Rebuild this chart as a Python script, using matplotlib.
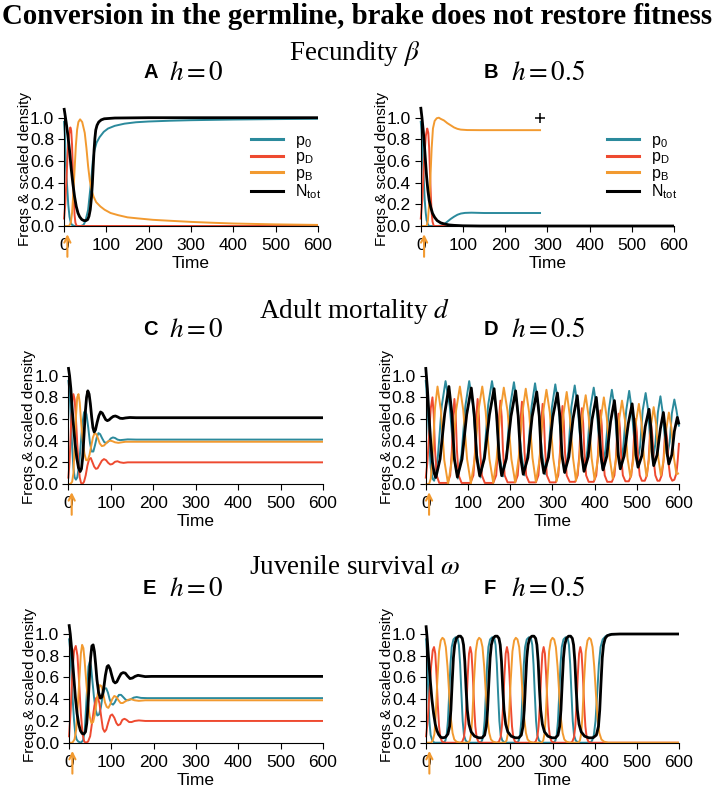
import matplotlib
matplotlib.use("Agg")
import matplotlib.pyplot as plt
from matplotlib.lines import Line2D

# ─── Farben / Stil ────────────────────────────────────────────────────────────
TEAL   = "#2b8a9c"
RED    = "#ee4a30"
ORANGE = "#f29a30"
BLACK  = "#000000"

plt.rcParams["font.family"] = ["Liberation Sans", "DejaVu Sans"]
plt.rcParams["mathtext.fontset"] = "stix"

# ─── Daten: (Zeit, Wert) ─────────────────────────────────────────────────────
RELEASE_T = 8          # orange Pfeil = Einführung der Bremse
B_PLUS = (283, 1.0)    # Marker in Panel B

# Panel A – Fecundity, h = 0
A_P0 = [(0, 0.97), (2, 0.85), (4, 0.62), (6, 0.45), (8, 0.33), (10, 0.2), (13, 0.086),
        (16, 0.03), (19, 0.01), (25, 0.0), (40, 0.0), (46, 0.01), (50, 0.04), (54, 0.1),
        (57, 0.15), (61, 0.3), (65, 0.45), (68, 0.6), (72, 0.7), (77, 0.77), (84, 0.82),
        (94, 0.87), (104, 0.9), (120, 0.925), (143, 0.945), (170, 0.958), (200, 0.965),
        (250, 0.972), (300, 0.977), (400, 0.983), (500, 0.987), (600, 0.99)]
A_PD = [(0, 0.06), (3, 0.2), (6, 0.45), (9, 0.7), (12, 0.85), (15, 0.91), (17, 0.88),
        (19, 0.75), (21, 0.5), (23, 0.27), (25, 0.1), (27, 0.03), (30, 0.0), (600, 0.0)]
A_PB = [(0, 0.0), (12, 0.0), (16, 0.03), (19, 0.12), (22, 0.3), (25, 0.52), (28, 0.74),
        (31, 0.89), (34, 0.96), (38, 0.985), (43, 0.96), (49, 0.86), (53, 0.72), (57, 0.55),
        (61, 0.42), (65, 0.33), (70, 0.27), (76, 0.22), (86, 0.18), (96, 0.15), (110, 0.12),
        (128, 0.1), (150, 0.08), (175, 0.07), (210, 0.057), (242, 0.05), (300, 0.038),
        (350, 0.03), (400, 0.023), (500, 0.015), (600, 0.01)]
A_N = [(0, 1.09), (2, 1.04), (5, 0.96), (9, 0.84), (13, 0.7), (17, 0.53), (21, 0.39),
       (25, 0.27), (29, 0.18), (33, 0.12), (37, 0.085), (42, 0.06), (47, 0.05), (52, 0.05),
       (56, 0.06), (59, 0.09), (62, 0.15), (65, 0.27), (67, 0.39), (69, 0.55), (71, 0.7),
       (73, 0.81), (75, 0.886), (78, 0.93), (82, 0.96), (88, 0.98), (95, 0.99), (120, 0.997),
       (200, 1.0), (600, 1.0)]

# Panel B – Fecundity, h = 0.5
B_P0 = [(0, 0.97), (2, 0.88), (4, 0.7), (7, 0.45), (9.5, 0.24), (12, 0.12), (14, 0.055),
        (17, 0.015), (20, 0.0), (40, 0.0), (47, 0.003), (55, 0.015), (63, 0.04), (71, 0.065),
        (79, 0.086), (87, 0.104), (95, 0.115), (105, 0.121), (120, 0.123), (150, 0.12),
        (200, 0.12), (285, 0.12)]
B_PD = [(0, 0.06), (4, 0.25), (8, 0.6), (12, 0.83), (15.5, 0.9), (18, 0.86), (20, 0.72),
        (22, 0.5), (24, 0.28), (26, 0.12), (28, 0.04), (31, 0.0), (285, 0.0)]
B_PB = [(0, 0.0), (14, 0.0), (17, 0.05), (20, 0.2), (23, 0.45), (26, 0.72), (29, 0.9),
        (33, 0.97), (38, 0.995), (43, 1.0), (47, 0.99), (55, 0.975), (63, 0.95), (71, 0.93),
        (79, 0.91), (87, 0.897), (95, 0.89), (110, 0.886), (140, 0.885), (285, 0.885)]
B_N = [(0, 1.1), (3, 1.0), (6, 0.88), (8, 0.79), (11, 0.62), (14, 0.455), (17, 0.33),
       (20, 0.24), (24, 0.17), (28, 0.117), (33, 0.08), (39, 0.05), (47, 0.03), (55, 0.02),
       (67, 0.01), (79, 0.006), (100, 0.002), (140, 0.0), (600, 0.0)]

# Panel C – Adult mortality, h = 0
C_P0 = [(0, 0.96), (3, 0.85), (6, 0.6), (9, 0.35), (12, 0.15), (15, 0.06), (18, 0.04),
        (21, 0.06), (25, 0.16), (29, 0.35), (33, 0.55), (37, 0.66), (40, 0.68), (43, 0.64),
        (47, 0.52), (51, 0.38), (55, 0.3), (59, 0.3), (63, 0.36), (67, 0.43), (71, 0.47),
        (75, 0.46), (80, 0.42), (85, 0.385), (90, 0.38), (95, 0.395), (100, 0.42), (105, 0.43),
        (110, 0.425), (116, 0.41), (122, 0.405), (130, 0.408), (140, 0.412), (160, 0.41),
        (600, 0.41)]
C_PD = [(0, 0.05), (3, 0.2), (6, 0.5), (9, 0.75), (12, 0.83), (15, 0.78), (18, 0.6),
        (21, 0.38), (24, 0.18), (27, 0.06), (30, 0.01), (33, 0.0), (37, 0.02), (41, 0.08),
        (45, 0.17), (49, 0.23), (53, 0.24), (57, 0.2), (61, 0.16), (65, 0.14), (69, 0.145),
        (74, 0.18), (79, 0.215), (84, 0.23), (89, 0.22), (94, 0.195), (99, 0.18), (104, 0.185),
        (110, 0.205), (116, 0.21), (122, 0.2), (130, 0.195), (140, 0.2), (600, 0.2)]
C_PB = [(0, 0.0), (5, 0.0), (9, 0.02), (12, 0.1), (15, 0.35), (18, 0.62), (21, 0.8),
        (24, 0.83), (27, 0.75), (30, 0.58), (34, 0.4), (38, 0.28), (42, 0.22), (46, 0.22),
        (50, 0.27), (54, 0.35), (58, 0.43), (62, 0.47), (66, 0.46), (70, 0.42), (74, 0.375),
        (79, 0.35), (84, 0.355), (89, 0.375), (94, 0.395), (99, 0.4), (104, 0.395), (110, 0.385),
        (118, 0.38), (126, 0.385), (135, 0.39), (150, 0.39), (600, 0.39)]
C_N = [(0, 1.08), (3, 1.0), (6, 0.88), (9, 0.7), (12, 0.55), (16, 0.37), (20, 0.24),
       (24, 0.15), (28, 0.115), (31, 0.14), (34, 0.25), (37, 0.45), (40, 0.66), (43, 0.8),
       (46, 0.86), (49, 0.83), (52, 0.74), (55, 0.62), (58, 0.52), (61, 0.48), (64, 0.5),
       (68, 0.57), (72, 0.63), (76, 0.665), (80, 0.655), (84, 0.625), (88, 0.595), (92, 0.585),
       (96, 0.592), (101, 0.61), (106, 0.624), (111, 0.628), (116, 0.62), (122, 0.607),
       (128, 0.605), (135, 0.61), (145, 0.614), (160, 0.612), (600, 0.612)]

# Panel D – Adult mortality, h = 0.5 (Oszillationen)
D_P0 = [(0, 0.96), (4, 0.75), (8, 0.4), (12, 0.15), (16, 0.05), (20, 0.03),
        (29, 0.26), (38, 0.72), (47, 0.95), (57, 0.72), (66, 0.28), (76, 0.05),
        (85, 0.28), (94, 0.72), (103, 0.95), (112, 0.73), (121, 0.28), (130, 0.06),
        (139, 0.28), (148, 0.73), (157, 0.95), (166, 0.73), (174, 0.29), (183, 0.07),
        (192, 0.29), (200, 0.72), (209, 0.94), (217, 0.72), (226, 0.3), (234, 0.08),
        (242, 0.29), (251, 0.72), (259, 0.93), (267, 0.72), (275, 0.3), (283, 0.09),
        (291, 0.3), (299, 0.71), (307, 0.92), (315, 0.71), (322, 0.3), (330, 0.1),
        (338, 0.3), (345, 0.71), (353, 0.91), (360, 0.71), (368, 0.32), (375, 0.12),
        (383, 0.31), (390, 0.7), (398, 0.89), (405, 0.7), (412, 0.33), (419, 0.14),
        (426, 0.32), (434, 0.69), (441, 0.87), (448, 0.69), (454, 0.34), (461, 0.16),
        (468, 0.34), (475, 0.68), (482, 0.86), (488, 0.69), (495, 0.36), (501, 0.19),
        (508, 0.35), (514, 0.68), (521, 0.84), (527, 0.68), (532, 0.38), (538, 0.22),
        (544, 0.37), (550, 0.66), (556, 0.81), (561, 0.67), (567, 0.4), (572, 0.26),
        (578, 0.39), (583, 0.65), (589, 0.78), (594, 0.68), (600, 0.53)]
D_PD = [(0, 0.05), (4, 0.2), (8, 0.45), (12, 0.7), (16, 0.8), (19, 0.64), (22, 0.32), (26, 0.08),
        (32, 0.01), (52, 0.01), (58, 0.08), (62, 0.31), (65, 0.63), (68, 0.785), (71, 0.63),
        (74, 0.31), (78, 0.08), (85, 0.01), (106, 0.01), (113, 0.08), (117, 0.31), (120, 0.63),
        (123, 0.785), (126, 0.63), (129, 0.31), (133, 0.08), (140, 0.01), (160, 0.01),
        (167, 0.08), (171, 0.31), (174, 0.62), (177, 0.77), (180, 0.62), (183, 0.31),
        (187, 0.08), (194, 0.015), (212, 0.015), (218, 0.08), (222, 0.3), (225, 0.61),
        (228, 0.76), (231, 0.61), (234, 0.3), (238, 0.08), (245, 0.015), (261, 0.015),
        (267, 0.08), (271, 0.3), (274, 0.59), (277, 0.74), (280, 0.59), (283, 0.3),
        (287, 0.08), (294, 0.015), (308, 0.015), (314, 0.08), (318, 0.29), (321, 0.58),
        (324, 0.72), (327, 0.58), (330, 0.29), (334, 0.08), (341, 0.02), (354, 0.02),
        (360, 0.08), (364, 0.28), (367, 0.56), (370, 0.7), (373, 0.56), (376, 0.28),
        (380, 0.08), (386, 0.02), (398, 0.02), (404, 0.08), (408, 0.27), (411, 0.54),
        (414, 0.68), (417, 0.54), (420, 0.27), (424, 0.08), (430, 0.02), (441, 0.02),
        (447, 0.08), (451, 0.26), (454, 0.52), (457, 0.65), (460, 0.52), (463, 0.26),
        (467, 0.08), (473, 0.025), (481, 0.025), (487, 0.08), (491, 0.24), (494, 0.48),
        (497, 0.6), (500, 0.48), (503, 0.24), (507, 0.08), (512, 0.03), (519, 0.03),
        (524, 0.08), (528, 0.22), (531, 0.44), (534, 0.55), (537, 0.44), (540, 0.22),
        (544, 0.08), (549, 0.03), (554, 0.03), (559, 0.08), (563, 0.2), (566, 0.41),
        (569, 0.51), (572, 0.41), (575, 0.2), (579, 0.07), (584, 0.03), (589, 0.04),
        (594, 0.1), (597, 0.22), (600, 0.38)]
D_PB = [(0, 0.0), (8, 0.0), (12, 0.05), (17, 0.3), (22, 0.7), (28, 0.9),
        (36, 0.68), (44, 0.22), (53, 0.0), (62, 0.22), (72, 0.68), (81, 0.9),
        (89, 0.68), (98, 0.23), (107, 0.005), (116, 0.23), (125, 0.68), (134, 0.9),
        (142, 0.67), (151, 0.23), (160, 0.01), (168, 0.23), (177, 0.67), (185, 0.89),
        (194, 0.67), (203, 0.23), (212, 0.015), (220, 0.23), (229, 0.66), (237, 0.88),
        (245, 0.66), (253, 0.24), (261, 0.02), (270, 0.23), (278, 0.66), (286, 0.87),
        (294, 0.66), (302, 0.24), (310, 0.025), (318, 0.23), (326, 0.64), (334, 0.85),
        (341, 0.64), (349, 0.24), (356, 0.03), (364, 0.23), (371, 0.63), (379, 0.82),
        (386, 0.62), (393, 0.24), (400, 0.04), (408, 0.23), (415, 0.61), (422, 0.8),
        (429, 0.61), (436, 0.24), (443, 0.05), (451, 0.23), (458, 0.59), (465, 0.77),
        (472, 0.59), (478, 0.24), (485, 0.06), (492, 0.23), (498, 0.57), (505, 0.74),
        (511, 0.57), (517, 0.24), (523, 0.07), (529, 0.23), (534, 0.55), (540, 0.71),
        (546, 0.55), (551, 0.24), (557, 0.08), (564, 0.23), (570, 0.51), (576, 0.66),
        (582, 0.52), (588, 0.24), (594, 0.09), (600, 0.1)]
D_N = [(0, 1.08), (4, 0.88), (8, 0.62), (12, 0.38), (16, 0.2), (20, 0.1), (24, 0.06),
       (34, 0.23), (45, 0.65), (55, 0.9), (62, 0.65), (68, 0.23), (75, 0.065),
       (86, 0.23), (97, 0.64), (108, 0.886), (115, 0.64), (121, 0.24), (128, 0.075),
       (139, 0.235), (151, 0.64), (162, 0.88), (168, 0.64), (174, 0.24), (180, 0.077),
       (191, 0.234), (202, 0.625), (213, 0.86), (219, 0.63), (225, 0.244), (231, 0.09),
       (242, 0.242), (252, 0.62), (263, 0.85), (269, 0.625), (274, 0.25), (280, 0.1),
       (291, 0.248), (301, 0.618), (312, 0.84), (318, 0.62), (323, 0.256), (329, 0.108),
       (339, 0.25), (349, 0.603), (359, 0.815), (364, 0.605), (370, 0.257), (375, 0.117),
       (385, 0.254), (394, 0.595), (404, 0.8), (409, 0.6), (415, 0.264), (420, 0.13),
       (429, 0.258), (438, 0.578), (447, 0.77), (452, 0.58), (456, 0.266), (461, 0.14),
       (470, 0.26), (480, 0.56), (489, 0.74), (494, 0.56), (498, 0.27), (503, 0.155),
       (512, 0.262), (520, 0.53), (529, 0.69), (533, 0.535), (537, 0.274), (540, 0.17),
       (548, 0.268), (556, 0.513), (563, 0.66), (567, 0.517), (572, 0.28), (576, 0.185),
       (583, 0.27), (589, 0.486), (596, 0.615), (600, 0.55)]

# Panel E – Juvenile survival, h = 0
E_P0 = [(0, 0.96), (3, 0.85), (6, 0.6), (9, 0.38), (12, 0.2), (15, 0.08), (18, 0.03),
        (22, 0.01), (28, 0.0), (33, 0.02), (37, 0.1), (40, 0.3), (43, 0.52), (46, 0.7),
        (49, 0.745), (52, 0.7), (55, 0.58), (59, 0.42), (63, 0.3), (67, 0.25), (71, 0.26),
        (75, 0.32), (79, 0.42), (84, 0.5), (88, 0.5), (92, 0.46), (96, 0.4), (100, 0.36),
        (104, 0.35), (108, 0.37), (113, 0.41), (118, 0.44), (123, 0.44), (128, 0.42),
        (134, 0.395), (140, 0.39), (146, 0.4), (153, 0.415), (160, 0.42), (170, 0.412),
        (185, 0.41), (600, 0.41)]
E_PD = [(0, 0.05), (4, 0.3), (8, 0.65), (12, 0.85), (16, 0.89), (20, 0.8), (24, 0.55),
        (28, 0.27), (32, 0.08), (36, 0.01), (40, 0.0), (45, 0.01), (50, 0.06), (55, 0.2),
        (60, 0.34), (64, 0.41), (68, 0.42), (72, 0.36), (76, 0.24), (80, 0.13), (84, 0.1),
        (88, 0.12), (93, 0.19), (98, 0.25), (102, 0.26), (107, 0.23), (112, 0.18), (116, 0.16),
        (121, 0.17), (126, 0.21), (131, 0.22), (136, 0.21), (142, 0.19), (148, 0.19),
        (155, 0.2), (165, 0.205), (180, 0.2), (600, 0.2)]
E_PB = [(0, 0.0), (8, 0.0), (13, 0.03), (17, 0.12), (21, 0.35), (25, 0.62), (28, 0.82),
        (31, 0.9), (34, 0.87), (37, 0.75), (41, 0.55), (45, 0.36), (49, 0.24), (53, 0.18),
        (57, 0.19), (61, 0.26), (65, 0.37), (69, 0.48), (73, 0.53), (77, 0.52), (81, 0.45),
        (85, 0.37), (89, 0.33), (93, 0.32), (97, 0.35), (102, 0.4), (107, 0.43), (112, 0.42),
        (117, 0.39), (122, 0.365), (127, 0.365), (133, 0.38), (140, 0.395), (147, 0.4),
        (155, 0.39), (165, 0.385), (180, 0.39), (600, 0.39)]
E_N = [(0, 1.09), (3, 1.0), (7, 0.83), (11, 0.62), (15, 0.42), (19, 0.27), (23, 0.17),
       (27, 0.11), (31, 0.085), (35, 0.08), (39, 0.1), (42, 0.18), (45, 0.35), (48, 0.58),
       (51, 0.78), (54, 0.89), (57, 0.9), (60, 0.84), (63, 0.72), (66, 0.58), (70, 0.46),
       (74, 0.41), (78, 0.42), (82, 0.5), (86, 0.62), (90, 0.7), (93, 0.71), (97, 0.68),
       (101, 0.62), (105, 0.565), (109, 0.55), (113, 0.56), (118, 0.6), (123, 0.635),
       (128, 0.645), (133, 0.64), (138, 0.615), (144, 0.59), (150, 0.595), (156, 0.61),
       (163, 0.62), (170, 0.615), (180, 0.608), (195, 0.61), (600, 0.61)]

# Panel F – Juvenile survival, h = 0.5
F_P0 = [(0, 0.96), (2, 0.85), (4, 0.62), (6, 0.38), (8, 0.2), (11, 0.07), (15, 0.02), (20, 0.0),
        (42, 0.0), (46, 0.02), (49, 0.07), (52, 0.2), (55, 0.45), (58, 0.72), (61, 0.88),
        (65, 0.95), (70, 0.97), (75, 0.96), (78, 0.9), (81, 0.72), (84, 0.45), (87, 0.2),
        (90, 0.07), (94, 0.02), (100, 0.0), (129, 0.0), (133, 0.02), (136, 0.07), (139, 0.2),
        (142, 0.45), (145, 0.72), (148, 0.88), (152, 0.95), (157, 0.97), (162, 0.96),
        (165, 0.9), (168, 0.72), (171, 0.45), (174, 0.2), (177, 0.07), (181, 0.02), (187, 0.0),
        (216, 0.0), (220, 0.02), (223, 0.07), (226, 0.2), (229, 0.45), (232, 0.72), (235, 0.88),
        (239, 0.95), (244, 0.97), (249, 0.96), (252, 0.9), (255, 0.72), (258, 0.45), (261, 0.2),
        (264, 0.07), (268, 0.02), (274, 0.0), (303, 0.0), (307, 0.02), (310, 0.07), (313, 0.2),
        (316, 0.45), (319, 0.72), (322, 0.88), (326, 0.95), (331, 0.97), (336, 0.96),
        (339, 0.9), (342, 0.72), (345, 0.45), (348, 0.2), (351, 0.07), (355, 0.02), (361, 0.0),
        (390, 0.0), (394, 0.02), (398, 0.07), (402, 0.2), (406, 0.45), (410, 0.72), (414, 0.88),
        (419, 0.95), (426, 0.98), (435, 0.995), (450, 1.0), (600, 1.0)]
F_PD = [(0, 0.05), (4, 0.2), (8, 0.45), (12, 0.7), (16, 0.85), (19, 0.88), (22, 0.82),
        (25, 0.62), (28, 0.35), (31, 0.15), (34, 0.05), (38, 0.01), (45, 0.0), (82, 0.0),
        (86, 0.01), (90, 0.05), (93, 0.15), (96, 0.35), (99, 0.62), (102, 0.82), (105, 0.88),
        (108, 0.82), (111, 0.62), (114, 0.35), (117, 0.15), (120, 0.05), (124, 0.01), (131, 0.0),
        (169, 0.0), (173, 0.01), (177, 0.05), (180, 0.15), (183, 0.35), (186, 0.62), (189, 0.82),
        (192, 0.88), (195, 0.82), (198, 0.62), (201, 0.35), (204, 0.15), (207, 0.05), (211, 0.01),
        (218, 0.0), (256, 0.0), (260, 0.01), (264, 0.05), (267, 0.15), (270, 0.35), (273, 0.62),
        (276, 0.82), (279, 0.88), (282, 0.82), (285, 0.62), (288, 0.35), (291, 0.15), (294, 0.05),
        (298, 0.01), (305, 0.0), (343, 0.0), (347, 0.01), (351, 0.05), (354, 0.15), (357, 0.35),
        (360, 0.62), (363, 0.82), (366, 0.88), (369, 0.82), (372, 0.62), (375, 0.35), (378, 0.15),
        (381, 0.05), (385, 0.01), (392, 0.0), (600, 0.0)]
F_PB = [(0, 0.0), (12, 0.0), (16, 0.02), (20, 0.08), (23, 0.25), (27, 0.58), (31, 0.84),
        (35, 0.94), (39, 0.965), (43, 0.95), (47, 0.88), (51, 0.7), (55, 0.45), (59, 0.22),
        (63, 0.09), (67, 0.03), (72, 0.01), (80, 0.0), (100, 0.0), (104, 0.02), (107, 0.08),
        (110, 0.25), (114, 0.58), (118, 0.84), (122, 0.94), (126, 0.965), (130, 0.95), (134, 0.88),
        (138, 0.7), (142, 0.45), (146, 0.22), (150, 0.09), (154, 0.03), (159, 0.01), (167, 0.0),
        (187, 0.0), (191, 0.02), (194, 0.08), (197, 0.25), (201, 0.58), (205, 0.84), (209, 0.94),
        (213, 0.965), (217, 0.95), (221, 0.88), (225, 0.7), (229, 0.45), (233, 0.22), (237, 0.09),
        (241, 0.03), (246, 0.01), (254, 0.0), (274, 0.0), (278, 0.02), (281, 0.08), (284, 0.25),
        (288, 0.58), (292, 0.84), (296, 0.94), (300, 0.965), (304, 0.95), (308, 0.88), (312, 0.7),
        (316, 0.45), (320, 0.22), (324, 0.09), (328, 0.03), (333, 0.01), (341, 0.0), (361, 0.0),
        (365, 0.02), (368, 0.08), (371, 0.25), (375, 0.58), (379, 0.84), (383, 0.94), (387, 0.965),
        (391, 0.95), (395, 0.88), (399, 0.7), (403, 0.45), (407, 0.22), (411, 0.09), (416, 0.03),
        (422, 0.01), (432, 0.0), (600, 0.0)]
F_N = [(0, 1.08), (3, 0.95), (6, 0.78), (10, 0.58), (14, 0.4), (18, 0.27), (22, 0.17),
       (26, 0.11), (30, 0.075), (35, 0.05), (40, 0.045), (46, 0.05), (52, 0.08), (56, 0.15),
       (59, 0.3), (62, 0.55), (65, 0.78), (68, 0.9), (72, 0.96), (77, 0.98), (82, 0.98),
       (86, 0.96), (89, 0.9), (92, 0.75), (95, 0.5), (98, 0.3), (102, 0.17), (107, 0.1),
       (115, 0.06), (125, 0.045), (133, 0.045), (139, 0.07), (143, 0.15), (146, 0.3),
       (149, 0.55), (152, 0.78), (155, 0.9), (159, 0.96), (164, 0.98), (169, 0.98), (173, 0.96),
       (176, 0.9), (179, 0.75), (182, 0.5), (185, 0.3), (189, 0.17), (194, 0.1), (202, 0.06),
       (212, 0.045), (220, 0.045), (226, 0.07), (230, 0.15), (233, 0.3), (236, 0.55),
       (239, 0.78), (242, 0.9), (246, 0.96), (251, 0.98), (256, 0.98), (260, 0.96), (263, 0.9),
       (266, 0.75), (269, 0.5), (272, 0.3), (276, 0.17), (281, 0.1), (289, 0.06), (299, 0.045),
       (307, 0.045), (313, 0.07), (317, 0.15), (320, 0.3), (323, 0.55), (326, 0.78), (329, 0.9),
       (333, 0.96), (338, 0.98), (343, 0.98), (347, 0.96), (350, 0.9), (353, 0.75), (356, 0.5),
       (359, 0.3), (363, 0.17), (368, 0.1), (376, 0.06), (386, 0.045), (396, 0.045),
       (404, 0.07), (409, 0.15), (412, 0.3), (415, 0.55), (418, 0.78), (421, 0.9), (425, 0.96),
       (430, 0.985), (440, 0.997), (460, 1.0), (600, 1.0)]

X_TICKS = [0, 100, 200, 300, 400, 500, 600]
Y_TICKS = [0.0, 0.2, 0.4, 0.6, 0.8, 1.0]
LEGEND_LABELS = [r"$\mathregular{p_0}$", r"$\mathregular{p_D}$", r"$\mathregular{p_B}$",
                 r"$\mathregular{N_{tot}}$"]

ROW_TITLES = ["Fecundity $\\beta$", "Adult mortality $d$", "Juvenile survival $\\omega$"]

# ─── Layout (Pixel im 714x787-Bild) ──────────────────────────────────────────
W, H = 714, 787
YTOP = 1.12

fig = plt.figure(figsize=(W / 100, H / 100), dpi=100)


def px(x, y):
    return x / W, 1 - y / H


def make_axes(x0, x600, y0, y1):
    unit = y0 - y1
    return fig.add_axes([x0 / W, 1 - y0 / H, (x600 - x0) / W, YTOP * unit / H])


panels = [
    # Buchstabe, h, Achsen (x0, x600, y0, y1), Kurven, Legende?, Titel-y
    ("A", "0",   (64, 318, 226, 117.7),   (A_P0, A_PD, A_PB, A_N), True,  72),
    ("B", "0.5", (420.7, 674, 226, 117.7), (B_P0, B_PD, B_PB, B_N), True,  72),
    ("C", "0",   (68.3, 323, 484, 375.7), (C_P0, C_PD, C_PB, C_N), False, 329),
    ("D", "0.5", (425.7, 679, 484, 375.7), (D_P0, D_PD, D_PB, D_N), False, 329),
    ("E", "0",   (69, 323, 742.7, 634),   (E_P0, E_PD, E_PB, E_N), False, 588),
    ("F", "0.5", (426, 679, 742.7, 634),  (F_P0, F_PD, F_PB, F_N), False, 588),
]

colors = [TEAL, RED, ORANGE, BLACK]
widths = [1.4, 1.4, 1.4, 2.0]

for letter, hval, box, curves, show_leg, ty in panels:
    ax = make_axes(*box)
    ax.set_xlim(0, 600)
    ax.set_ylim(0, YTOP)
    ax.patch.set_visible(False)
    for s in ("top", "right"):
        ax.spines[s].set_visible(False)
    ax.spines["left"].set_bounds(0, 1)
    ax.spines["bottom"].set_bounds(0, 600)
    ax.spines["left"].set_linewidth(0.8)
    ax.spines["bottom"].set_linewidth(0.8)
    ax.set_xticks(X_TICKS)
    ax.set_yticks(Y_TICKS)
    ax.set_yticklabels([f"{v:.1f}" for v in Y_TICKS])
    ax.tick_params(direction="out", length=4, width=0.8, labelsize=12.5)
    ax.tick_params(axis="x", pad=4.5)
    ax.tick_params(axis="y", pad=3)
    ax.set_xlabel("Time", fontsize=12.5, va="center")
    ax.xaxis.set_label_coords(0.5, -0.31)
    ax.set_ylabel("Freqs & scaled density", fontsize=11, va="center")
    ax.yaxis.set_label_coords(-0.154, 0.47)

    for pts, c, lw in zip(curves, colors, widths):
        t, v = zip(*pts)
        ax.plot(t, v, color=c, lw=lw, clip_on=False, solid_joinstyle="round",
                solid_capstyle="butt")

    if letter == "B":
        ax.plot(*B_PLUS, marker="+", color=BLACK, ms=7, mew=1.1, clip_on=False)

    ax.annotate("", xy=(RELEASE_T, -0.05), xytext=(RELEASE_T, -0.31),
                arrowprops=dict(arrowstyle="->", color=ORANGE, lw=1.5, mutation_scale=11),
                annotation_clip=False)

    if show_leg:
        leg_handles = [Line2D([], [], color=c, lw=2.2) for c in colors]
        ax.legend(leg_handles, LEGEND_LABELS, loc="upper left",
                  bbox_to_anchor=(0.735, 0.77), frameon=False, fontsize=11.5,
                  handlelength=2.0, handletextpad=0.75, labelspacing=-0.02,
                  borderpad=0, borderaxespad=0)

    # Paneltitel
    lx = 143 if hval == "0" else 484
    hx = 169 if hval == "0" else 511
    fig.text(*px(lx, ty), letter, fontsize=14.5, fontweight="bold", ha="left", va="center")
    fig.text(*px(hx, ty + 1), f"$h = {hval}$", fontsize=19.5, ha="left", va="center")

# Zeilentitel
for txt, y in zip(ROW_TITLES, [53, 311, 568]):
    fig.text(*px(355, y), txt, fontsize=19.5, family="Liberation Serif",
             ha="center", va="center")

# Haupttitel, auf Bildbreite eingepasst
title = fig.text(*px(357, 16), "Conversion in the germline, brake does not restore fitness",
                 fontsize=20, family="Liberation Serif", fontweight="bold",
                 ha="center", va="center")
fig.canvas.draw()
w = title.get_window_extent().width
title.set_fontsize(20 * 708 / w)

fig.savefig("out.png", dpi=100)
